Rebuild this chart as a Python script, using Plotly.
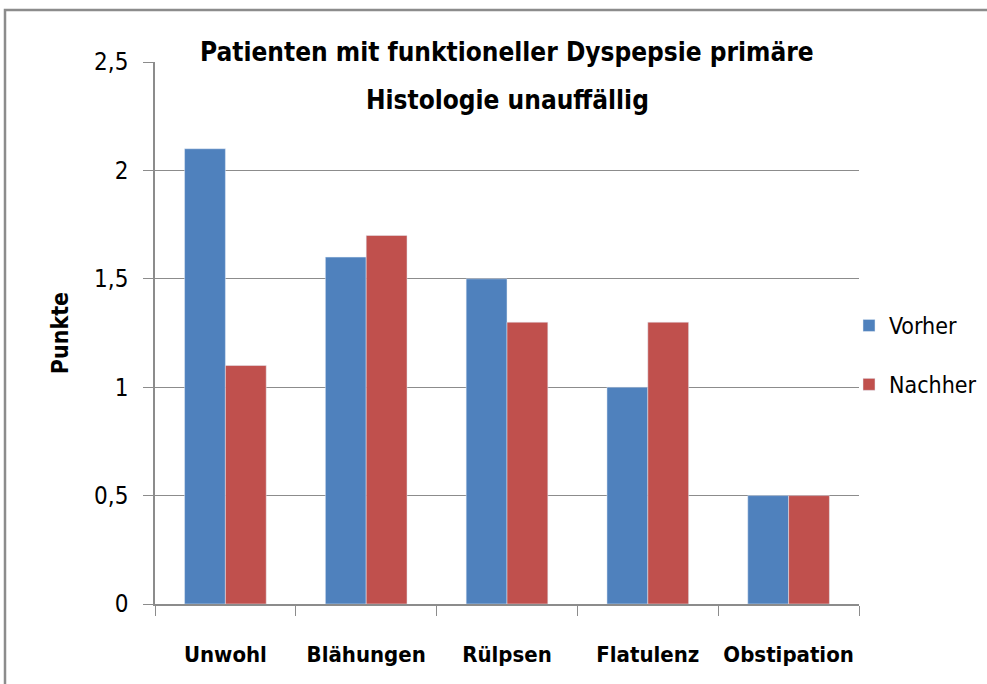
import plotly.graph_objects as go

categories = ["Unwohl", "Blähungen", "Rülpsen", "Flatulenz", "Obstipation"]
vorher = [2.1, 1.6, 1.5, 1.0, 0.5]
nachher = [1.1, 1.7, 1.3, 1.3, 0.5]
tick_vals = [0, 0.5, 1, 1.5, 2, 2.5]
tick_text = ["0", "0,5", "1", "1,5", "2", "2,5"]
title_lines = ["Patienten mit funktioneller Dyspepsie primäre", "Histologie unauffällig"]

FONT = "DejaVu Sans Condensed, Liberation Sans, sans-serif"

fig = go.Figure()
fig.add_trace(go.Bar(name="Vorher", x=categories, y=vorher, marker_color="#4F81BD",
                     legendgroup="a"))
fig.add_trace(go.Bar(name="Nachher", x=categories, y=nachher, marker_color="#C0504D",
                     legendgroup="b"))

L, R, T, B = 155, 128, 62, 80
W, H = 987, 684
pw = W - L - R
ph = H - T - B

def px_x(p):
    return (p - L) / pw

def px_y(p):
    return (H - B - p) / ph

fig.update_layout(
    width=W, height=H,
    margin=dict(l=L, r=R, t=T, b=B, pad=0, autoexpand=False),
    paper_bgcolor="white", plot_bgcolor="white",
    barmode="group", bargap=0.42, bargroupgap=0,
    font=dict(family=FONT, color="#000000"),
    showlegend=True,
    legend=dict(x=px_x(849), y=px_y(304), xanchor="left", yanchor="top",
                font=dict(size=23, color="#000000"), traceorder="grouped",
                tracegroupgap=26, itemwidth=30, bgcolor="rgba(0,0,0,0)"),
    xaxis=dict(showline=True, linecolor="#8c8c8c", linewidth=1.5, automargin=False,
               ticks="outside", tickson="boundaries", ticklen=10, tickcolor="#8c8c8c",
               tickfont=dict(size=22, color="#000000", family=FONT),
               showgrid=False, ticklabelstandoff=30),
    yaxis=dict(range=[0, 2.5], tickvals=tick_vals, ticktext=tick_text, automargin=False,
               showline=True, linecolor="#8c8c8c", linewidth=1.5,
               ticks="outside", ticklen=10, tickcolor="#8c8c8c",
               showgrid=True, gridcolor="#8c8c8c", gridwidth=1.2,
               tickfont=dict(size=24, color="#000000", family=FONT),
               zeroline=False, ticklabelstandoff=10,
               title=dict(text="<b>Punkte</b>", font=dict(size=23, color="#000000"), standoff=19)),
)

fig.for_each_xaxis(lambda a: a.update(tickprefix="<b>", ticksuffix="</b>"))

fig.add_annotation(text="<b>" + title_lines[0] + "</b>", xref="paper", yref="paper",
                   x=0.5, y=px_y(52), showarrow=False, font=dict(size=26, color="#000000"),
                   yanchor="middle")
fig.add_annotation(text="<b>" + title_lines[1] + "</b>", xref="paper", yref="paper",
                   x=0.5, y=px_y(100), showarrow=False, font=dict(size=26, color="#000000"),
                   yanchor="middle")

fig.add_shape(type="rect", xref="paper", yref="paper",
              x0=px_x(5), x1=px_x(995), y0=px_y(700), y1=px_y(10),
              line=dict(color="#8c8c8c", width=2.5), fillcolor="rgba(0,0,0,0)", layer="below")

fig.write_html("out.html", post_script="document.body.style.margin='0';",
               config={"displayModeBar": False})
